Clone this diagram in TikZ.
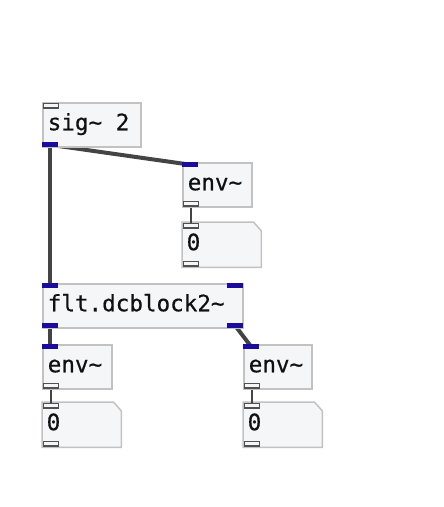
\documentclass[tikz,border=0pt]{standalone}
\usepackage{fontspec}
\usetikzlibrary{backgrounds}
\newfontfamily\pdmono[FakeBold=0.5]{DejaVu Sans Mono}
\definecolor{boxfill}{HTML}{F5F6F8}
\definecolor{boxline}{HTML}{C2C2C2}
\definecolor{sigport}{HTML}{1B0C9C}
\definecolor{ctlport}{HTML}{505050}
\definecolor{wire}{HTML}{444444}
\definecolor{txt}{HTML}{101010}
\tikzset{
  obj/.style={draw=boxline, fill=boxfill, line width=1.5pt, anchor=north west,
    inner xsep=5pt, inner ysep=0pt, font=\pdmono\fontsize{22.6}{22.6}\selectfont,
    text=txt, text height=15pt, text depth=4pt, align=left, minimum height=44pt},
  numtxt/.style={anchor=north west, inner xsep=4pt, inner ysep=0pt,
    font=\pdmono\fontsize{22.6}{22.6}\selectfont, text=txt, text height=15pt,
    text depth=4pt, align=left, minimum height=45pt, minimum width=79pt, text width=70pt},
  numshape/.style={draw=boxline, fill=boxfill, line width=1.5pt},
  sigport/.style={fill=sigport, draw=none, minimum width=16pt, minimum height=5pt, inner sep=0pt},
  ctlport/.style={fill=boxfill, draw=ctlport, line width=1.6pt, minimum width=15pt,
    minimum height=4.5pt, inner sep=0pt},
  sigwire/.style={draw=wire, line width=4pt},
  ctlwire/.style={draw=wire, line width=2pt},
}
\newcommand{\numbox}[1]{%
  \draw[numshape] (#1.north west) -- ([xshift=-8pt]#1.north east)
    -- ([yshift=-9pt]#1.north east) -- (#1.south east) -- (#1.south west) -- cycle;}
\begin{document}
\begin{tikzpicture}[x=1pt,y=-1pt]
\path[use as bounding box] (0,0) rectangle (444,507);
% objects
\node[obj, text width=88pt] (sig) at (42,102) {sig\textasciitilde{}\char32 2};
\node[obj, text width=59pt] (env1) at (182,162) {env\textasciitilde};
\node[numtxt] (num1) at (182,222) {0};
\node[obj, text width=190pt] (flt) at (42,283) {flt.dcblock2\textasciitilde};
\node[obj, text width=59pt] (env2) at (42,344) {env\textasciitilde};
\node[obj, text width=58pt] (env3) at (243,344) {env\textasciitilde};
\node[numtxt] (num2) at (42,402) {0};
\node[numtxt] (num3) at (243,402) {0};
\begin{scope}[on background layer]
  \numbox{num1}
  \numbox{num2}
  \numbox{num3}
\end{scope}
% ports
\node[ctlport, anchor=north west] (sigi) at ([xshift=0.8pt,yshift=-0.8pt]sig.north west) {};
\node[sigport, anchor=south west] (sigo) at (sig.south west) {};
\node[sigport, anchor=north west] (env1i) at (env1.north west) {};
\node[ctlport, anchor=south west] (env1o) at ([xshift=0.8pt,yshift=0.8pt]env1.south west) {};
\node[ctlport, anchor=north west] (num1i) at ([xshift=0.8pt,yshift=-0.8pt]num1.north west) {};
\node[ctlport, anchor=south west] (num1o) at ([xshift=0.8pt,yshift=0.8pt]num1.south west) {};
\node[sigport, anchor=north west] (flti1) at (flt.north west) {};
\node[sigport, anchor=north east] (flti2) at (flt.north east) {};
\node[sigport, anchor=south west] (flto1) at (flt.south west) {};
\node[sigport, anchor=south east] (flto2) at (flt.south east) {};
\node[sigport, anchor=north west] (env2i) at (env2.north west) {};
\node[ctlport, anchor=south west] (env2o) at ([xshift=0.8pt,yshift=0.8pt]env2.south west) {};
\node[sigport, anchor=north west] (env3i) at (env3.north west) {};
\node[ctlport, anchor=south west] (env3o) at ([xshift=0.8pt,yshift=0.8pt]env3.south west) {};
\node[ctlport, anchor=north west] (num2i) at ([xshift=0.8pt,yshift=-0.8pt]num2.north west) {};
\node[ctlport, anchor=south west] (num2o) at ([xshift=0.8pt,yshift=0.8pt]num2.south west) {};
\node[ctlport, anchor=north west] (num3i) at ([xshift=0.8pt,yshift=-0.8pt]num3.north west) {};
\node[ctlport, anchor=south west] (num3o) at ([xshift=0.8pt,yshift=0.8pt]num3.south west) {};
% wires
\begin{scope}[on background layer]
  \draw[sigwire] (sigo.center) -- (env1i.center);
  \draw[sigwire] (sigo.center) -- (flti1.center);
  \draw[sigwire] (flto1.center) -- (env2i.center);
  \draw[sigwire] (flto2.center) -- (env3i.center);
  \draw[ctlwire] (env1o.center) -- (num1i.center);
  \draw[ctlwire] (env2o.center) -- (num2i.center);
  \draw[ctlwire] (env3o.center) -- (num3i.center);
\end{scope}
\end{tikzpicture}
\end{document}
